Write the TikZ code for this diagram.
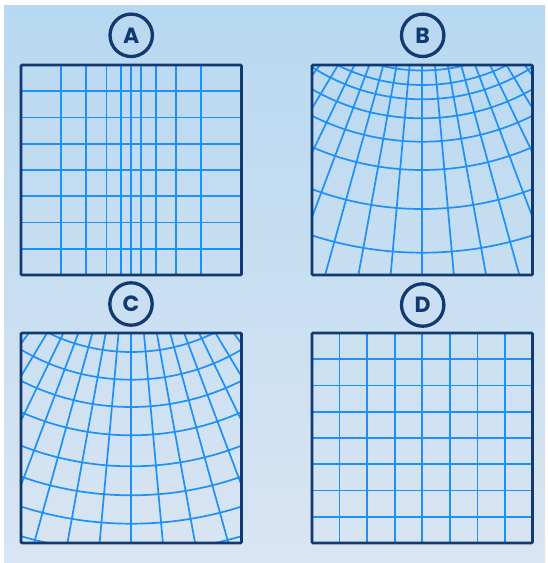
\documentclass[tikz,border=0pt]{standalone}
\usepackage{fontspec}
\newfontfamily\labelfont{Poppins}
\definecolor{bgtop}{RGB}{184,216,241}
\definecolor{bgbot}{RGB}{217,229,242}
\definecolor{navy}{RGB}{18,58,112}
\definecolor{gridblue}{RGB}{30,144,250}
\tikzset{
  panelbox/.style={draw=navy, line width=2.6pt, rounded corners=1pt},
  gridline/.style={draw=gridblue, line width=1.7pt},
  badge/.style={circle, draw=navy, line width=3.3pt, minimum size=42.4pt, inner sep=0pt,
    text=navy, font=\labelfont\bfseries\fontsize{22}{22}\selectfont},
}
% #1 centre x, #2 top y, #3 list of arc offsets below the top edge
\newcommand\fanpanel[3]{%
  \begin{scope}
    \clip (#1-110.25,#2) rectangle (#1+110.25,#2+210);
    \foreach \k in {-8,...,8}
      \draw[gridline] (#1,#2-140) -- ++({500*sin(5.17*\k)},{500*cos(5.17*\k)});
    \foreach \d in {#3}
      \draw[gridline] (#1,#2-170) circle[radius={(170+\d)*1pt}];
  \end{scope}
  \draw[panelbox] (#1-110.25,#2) rectangle (#1+110.25,#2+210);
}
\begin{document}
\begin{tikzpicture}[x=1pt,y=-1pt]
\useasboundingbox (0,0) rectangle (548,563);
\fill[white] (0,0) rectangle (548,563);
\shade[top color=bgtop, bottom color=bgbot] (4,5) rectangle (545,563);

% Panel A
\begin{scope}
  \clip (21,65) rectangle (241.5,275);
  \foreach \o in {-70,-45,-24.7,-10,0,10,24.7,45,70}
    \draw[gridline] (131.25+\o,65) -- (131.25+\o,275);
  \foreach \k in {1,...,7}
    \draw[gridline] (21,65+26.25*\k) -- (241.5,65+26.25*\k);
\end{scope}
\draw[panelbox] (21,65) rectangle (241.5,275);

% Panel B
\fanpanel{422.25}{65}{5.5,20,34.3,53.3,76.7,105,144,187.7}

% Panel C
\fanpanel{131.25}{333}{19,46.7,74,102.3,133.3,162.3,190.7,219}

% Panel D
\begin{scope}
  \clip (312,333) rectangle (532.5,543);
  \foreach \k in {1,...,7}{
    \draw[gridline] (312+27.5625*\k,333) -- (312+27.5625*\k,543);
    \draw[gridline] (312,333+26.25*\k) -- (532.5,333+26.25*\k);
  }
\end{scope}
\draw[panelbox] (312,333) rectangle (532.5,543);

% Badges
\node[badge] (labA) at (131.2,35.3) {A};
\node[badge] (labB) at (422.7,35.3) {B};
\node[badge] (labC) at (131,304) {C};
\node[badge] (labD) at (422.7,305) {D};
\end{tikzpicture}
\end{document}
